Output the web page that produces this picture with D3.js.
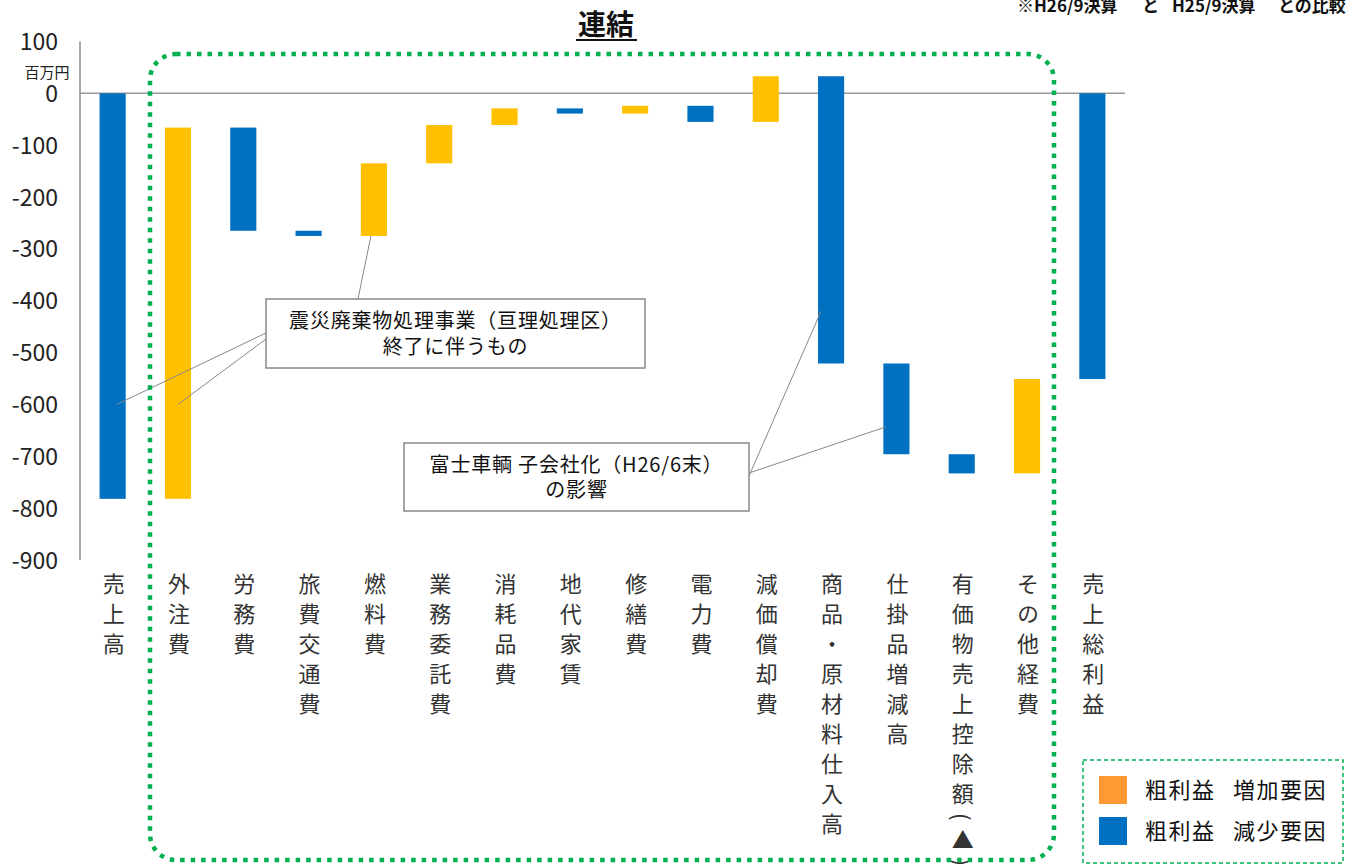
<!DOCTYPE html>
<html lang="ja">
<head>
<meta charset="utf-8">
<script src="https://cdn.jsdelivr.net/npm/d3@7"></script>
<style>
  html, body { margin: 0; padding: 0; background: #fff; }
  svg { display: block; }
  text { font-family: "Noto Sans CJK JP", "Noto Sans", sans-serif; }
</style>
</head>
<body>
<svg id="chart" width="1350" height="868"></svg>
<script>
// 粗利益の増減要因（百万円）
const categories = [
  "売上高", "外注費", "労務費", "旅費交通費", "燃料費", "業務委託費", "消耗品費",
  "地代家賃", "修繕費", "電力費", "減価償却費", "商品・原材料仕入高", "仕掛品増減高",
  "有価物売上控除額(▲)", "その他経費", "売上総利益"
];
// 各項目の増減額（最後の売上総利益は累計）
const deltas = [-782, 716, -199, -10, 140, 74, 32, -10, 15, -31, 88, -554, -175, -37, 182];
const yTicks = [100, 0, -100, -200, -300, -400, -500, -600, -700, -800, -900];
const legendLabels = [["粗利益", "増加要因"], ["粗利益", "減少要因"]];
const titleText = "連結";
const unitText = "百万円";
const noteParts = ["※H26/9決算", "と", "H25/9決算", "との比較"];
const callout1 = ["震災廃棄物処理事業（亘理処理区）", "終了に伴うもの"];
const callout2 = ["富士車輌 子会社化（H26/6末）", "の影響"];

const BLUE = "#0070c0", ORANGE = "#ffc000", LEGEND_ORANGE = "#ff9933", GREEN = "#00b050";

// ウォーターフォールの各バー（開始値・終了値）
const bars = [];
let run = 0;
deltas.forEach((d, i) => {
  bars.push({ cat: categories[i], from: run, to: run + d, delta: d });
  run += d;
});
bars.push({ cat: categories[categories.length - 1], from: 0, to: run, delta: run });

const svg = d3.select("#chart");

const x = d3.scaleBand().domain(categories).range([80, 1125])
  .paddingInner(0.6).paddingOuter(0.3);
const y = d3.scaleLinear().domain([-900, 100]).range([560, 41.5]);

// 目盛ラベル（ハイフン表記）
const yAxis = d3.axisLeft(y).tickValues(yTicks).tickSize(0).tickPadding(22)
  .tickFormat(d => String(d));
const gy = svg.append("g").attr("transform", "translate(80,0)").call(yAxis);
gy.select(".domain").remove();
gy.selectAll("text")
  .attr("font-family", "'Liberation Sans', Arial, sans-serif")
  .attr("font-size", 23).attr("fill", "#222").attr("dy", "0.35em");

// 縦軸線
svg.append("line").attr("x1", 80).attr("x2", 80)
  .attr("y1", y(100)).attr("y2", y(-900))
  .attr("stroke", "#aaa").attr("stroke-width", 2);

// 単位
svg.append("text").attr("x", 47).attr("y", 78).attr("text-anchor", "middle")
  .attr("font-size", 15).attr("fill", "#222").text(unitText);

// ゼロ線
svg.append("line").attr("x1", 80).attr("x2", 1125)
  .attr("y1", y(0)).attr("y2", y(0))
  .attr("stroke", "#999").attr("stroke-width", 1.5);

// バー
svg.append("g").selectAll("rect").data(bars).join("rect")
  .attr("x", d => x(d.cat))
  .attr("width", x.bandwidth())
  .attr("y", d => y(Math.max(d.from, d.to)))
  .attr("height", d => Math.abs(y(d.from) - y(d.to)))
  .attr("fill", d => d.delta >= 0 ? ORANGE : BLUE);

// 項目名（縦書き）
svg.append("g").selectAll("text").data(categories).join("text")
  .attr("x", d => x(d) + x.bandwidth() / 2 + 1)
  .attr("y", 573)
  .style("writing-mode", "vertical-rl")
  .style("letter-spacing", "8px")
  .attr("font-size", 22)
  .attr("fill", "#333")
  .text(d => d);

// タイトル
svg.append("text").attr("x", 606).attr("y", 35)
  .attr("text-anchor", "middle").attr("font-size", 28).attr("font-weight", "bold")
  .attr("fill", "#111").text(titleText);
svg.append("line").attr("x1", 576).attr("x2", 637).attr("y1", 40).attr("y2", 40)
  .attr("stroke", "#111").attr("stroke-width", 2);

// 比較注記
const note = svg.append("text").attr("y", 12).attr("font-size", 17)
  .attr("font-weight", "bold").attr("fill", "#111");
const noteX = [1017, 1142, 1172, 1278];
noteParts.forEach((t, i) => note.append("tspan").attr("x", noteX[i]).text(t));

// 引出線
const cx = c => x(c) + x.bandwidth() / 2;
const leaders = [
  [266, 333, cx("売上高") + 4, y(-600)],
  [266, 339, cx("外注費"), y(-600)],
  [358, 299, cx("燃料費") - 3, y(-275)],
  [749, 476, cx("商品・原材料仕入高") - 10, y(-420)],
  [749, 473, x("仕掛品増減高") + 3, y(-643)]
];
svg.append("g").selectAll("line").data(leaders).join("line")
  .attr("x1", d => d[0]).attr("y1", d => d[1])
  .attr("x2", d => d[2]).attr("y2", d => d[3])
  .attr("stroke", "#888").attr("stroke-width", 1);

// 吹き出し枠
function callout(x0, y0, w, h, lines, base, gap) {
  svg.append("rect").attr("x", x0).attr("y", y0).attr("width", w).attr("height", h)
    .attr("fill", "#fff").attr("stroke", "#888").attr("stroke-width", 1.5);
  lines.forEach((t, i) => {
    svg.append("text").attr("x", x0 + w / 2).attr("y", base + i * gap)
      .attr("text-anchor", "middle").attr("font-size", 20).attr("fill", "#111")
      .style("letter-spacing", "0.8px").text(t);
  });
}
callout(266, 299, 379, 69, callout1, 328, 26);
callout(404, 443, 345, 68, callout2, 472, 25);

// 緑の点線枠
svg.append("rect").attr("x", 150).attr("y", 54).attr("width", 904).attr("height", 806)
  .attr("rx", 26).attr("fill", "none").attr("stroke", GREEN)
  .attr("stroke-width", 4.5).attr("stroke-dasharray", "4.5 6");

// 凡例
svg.append("rect").attr("x", 1083).attr("y", 760).attr("width", 260).attr("height", 103)
  .attr("fill", "#fff").attr("stroke", GREEN).attr("stroke-width", 1.5)
  .attr("stroke-dasharray", "4 3");
const legendColors = [LEGEND_ORANGE, BLUE];
legendLabels.forEach((lab, i) => {
  const ly = 776 + i * 41;
  svg.append("rect").attr("x", 1099).attr("y", ly).attr("width", 28).attr("height", 28)
    .attr("fill", legendColors[i]);
  const t = svg.append("text").attr("y", ly + 22).attr("font-size", 22)
    .attr("fill", "#111").style("letter-spacing", "1.5px");
  t.append("tspan").attr("x", 1145).text(lab[0]);
  t.append("tspan").attr("x", 1233).text(lab[1]);
});
</script>
</body>
</html>
